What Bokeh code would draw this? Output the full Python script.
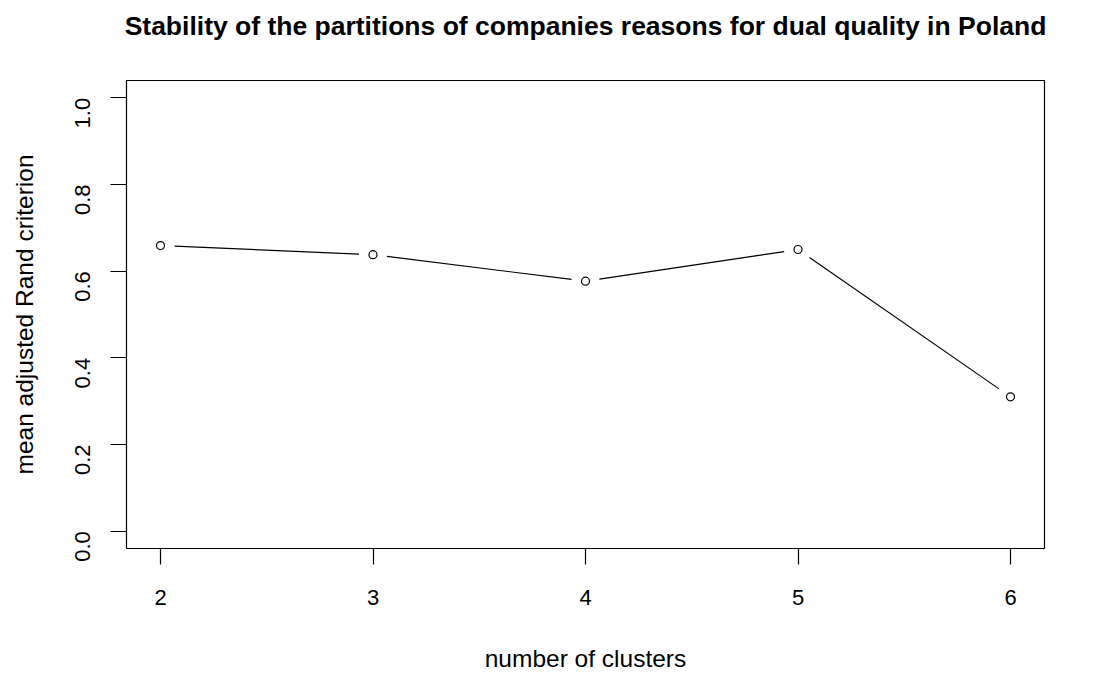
import math
from bokeh.plotting import figure
from bokeh.models import FixedTicker, Range1d, LinearAxis
from bokeh.embed import file_html
from bokeh.resources import INLINE

# data
clusters = [2, 3, 4, 5, 6]
rand_mean = [0.659, 0.638, 0.577, 0.650, 0.310]
x_ticks = [2, 3, 4, 5, 6]
y_ticks = [0.0, 0.2, 0.4, 0.6, 0.8, 1.0]
title_text = "Stability of the partitions of companies reasons for dual quality in Poland"

FONT = "Liberation Sans"
W, H = 1110, 674
ML, MR, MT, MB = 126, 66, 80, 123
x0, x1 = 1.84, 6.16
y0, y1 = -0.04, 1.04

p = figure(width=W, height=H, output_backend="svg", toolbar_location=None,
           x_range=Range1d(x0, x1), y_range=Range1d(y0, y1),
           min_border_left=ML, min_border_right=MR, min_border_top=MT, min_border_bottom=MB)
p.background_fill_color = "white"
p.border_fill_color = "white"
p.grid.visible = False
p.outline_line_color = "black"
p.outline_line_width = 1.2

xax = p.below[0]
yax = p.left[0]

for ax in (xax, yax):
    ax.axis_line_color = None
    ax.major_tick_line_color = "black"
    ax.major_tick_line_width = 1.2
    ax.major_tick_out = 16
    ax.major_tick_in = 0
    ax.minor_tick_line_color = None
    ax.major_label_text_font = FONT
    ax.major_label_text_font_size = "22px"
    ax.major_label_text_color = "black"
    ax.axis_label_text_font = FONT
    ax.axis_label_text_font_size = "24.5px"
    ax.axis_label_text_font_style = "normal"
    ax.axis_label_text_color = "black"

xax.ticker = FixedTicker(ticks=x_ticks)
yax.ticker = FixedTicker(ticks=y_ticks)
yax.major_label_overrides = {t: f"{t:.1f}" for t in y_ticks}
xax.major_label_overrides = {t: str(t) for t in x_ticks}
yax.major_label_orientation = math.pi / 2
xax.axis_label = "number of clusters"
yax.axis_label = "mean adjusted Rand criterion"
xax.major_label_standoff = 25
yax.major_label_standoff = 28
xax.axis_label_standoff = 37
yax.axis_label_standoff = 27

# title drawn as the label of a bare axis above the frame
title_axis = LinearAxis(ticker=FixedTicker(ticks=[]), axis_label=title_text)
title_axis.axis_line_color = None
title_axis.major_tick_line_color = None
title_axis.minor_tick_line_color = None
title_axis.major_tick_out = 0
title_axis.major_tick_in = 0
title_axis.minor_tick_out = 0
title_axis.major_label_standoff = 0
title_axis.major_label_text_font_size = "0px"
title_axis.axis_label_text_font = FONT
title_axis.axis_label_text_font_size = "26.5px"
title_axis.axis_label_text_font_style = "bold"
title_axis.axis_label_text_color = "black"
title_axis.axis_label_standoff = 40
p.add_layout(title_axis, "above")

fw = W - ML - MR
fh = H - MT - MB
sx = fw / (x1 - x0)
sy = fh / (y1 - y0)

# segments with gaps (R type="b")
gap = 14.0
sx0, sy0, sx1, sy1 = [], [], [], []
for i in range(len(clusters) - 1):
    ax_, ay_ = clusters[i], rand_mean[i]
    bx_, by_ = clusters[i + 1], rand_mean[i + 1]
    dxp = (bx_ - ax_) * sx
    dyp = (by_ - ay_) * sy
    L = math.hypot(dxp, dyp)
    ux, uy = dxp / L, dyp / L
    sx0.append(ax_ + ux * gap / sx)
    sy0.append(ay_ + uy * gap / sy)
    sx1.append(bx_ - ux * gap / sx)
    sy1.append(by_ - uy * gap / sy)

p.segment(x0=sx0, y0=sy0, x1=sx1, y1=sy1, line_color="black", line_width=1.2)
p.scatter(clusters, rand_mean, marker="circle", size=8, fill_color="white",
          line_color="black", line_width=1.2)

open("out.html", "w").write(file_html(p, INLINE))
